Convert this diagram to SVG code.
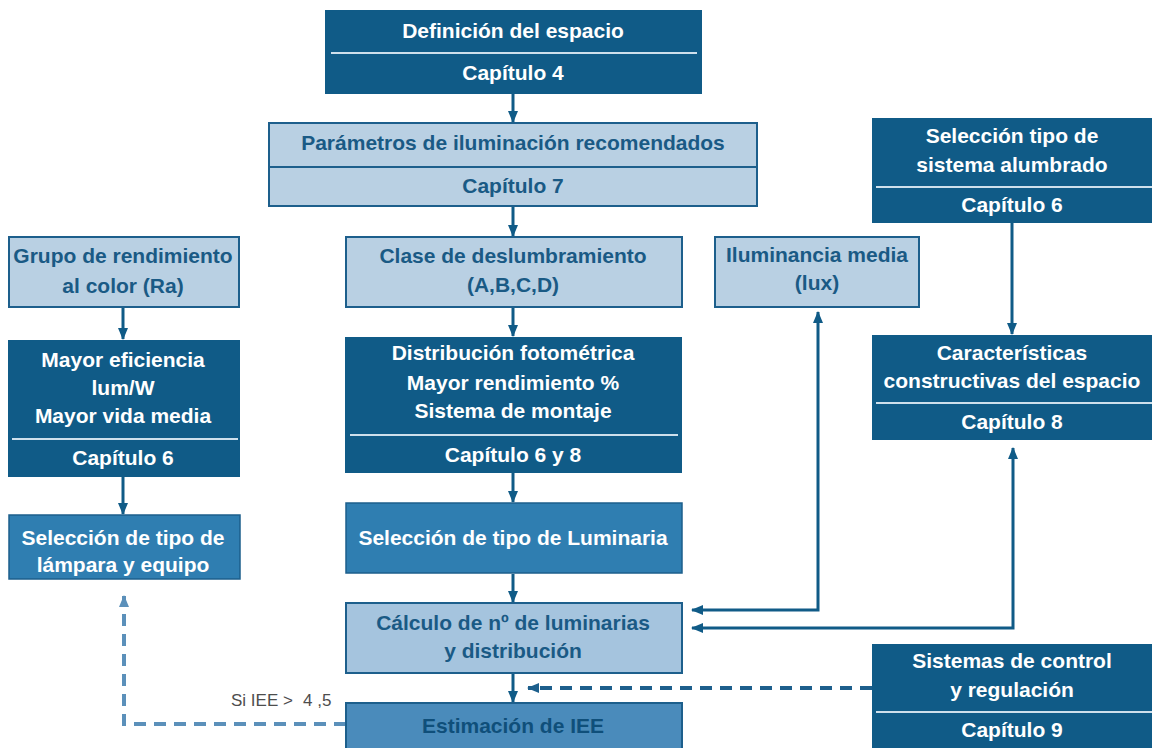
<svg xmlns="http://www.w3.org/2000/svg" width="1152" height="748" viewBox="0 0 1152 748">
<defs>
<style>
text{font-family:"Liberation Sans",Arial,sans-serif;font-weight:bold;font-size:21px;text-anchor:middle}
.dark rect{fill:#105b87}
.dark text{fill:#ffffff}
.dark line{stroke:#cfe0ec;stroke-width:2}
.light rect{fill:#b9d0e3;stroke:#1d5f8c;stroke-width:2}
.light text{fill:#1a5a85}
.light line{stroke:#1d5f8c;stroke-width:2}
.mid rect{fill:#2f7eb1;stroke:#1d5f8c;stroke-width:1.5}
.mid text{fill:#ffffff}
.calc rect{fill:#a5c4de;stroke:#1d5f8c;stroke-width:2}
.calc text{fill:#1a5a85}
.est rect{fill:#4a8bbb;stroke:#1d5f8c;stroke-width:2}
.est text{fill:#0f4f7a}
.conn{fill:none;stroke:#105b87;stroke-width:3}
.dash{fill:none;stroke:#1d5f8c;stroke-width:4;stroke-dasharray:12 8}
.dash2{fill:none;stroke:#5b90ba;stroke-width:4;stroke-dasharray:12 8}
.lbl{font-weight:normal;font-size:17px;fill:#4d4d4d;text-anchor:start}
</style>
<marker id="ah" viewBox="0 0 12 10" refX="11" refY="5" markerWidth="12" markerHeight="10" markerUnits="userSpaceOnUse" orient="auto-start-reverse"><path d="M0,0 L12,5 L0,10 z" fill="#105b87"/></marker>
<marker id="ahd" viewBox="0 0 12 10" refX="11" refY="5" markerWidth="12" markerHeight="10" markerUnits="userSpaceOnUse" orient="auto-start-reverse"><path d="M0,0 L12,5 L0,10 z" fill="#1d5f8c"/></marker>
<marker id="ahl" viewBox="0 0 12 10" refX="11" refY="5" markerWidth="12" markerHeight="10" markerUnits="userSpaceOnUse" orient="auto-start-reverse"><path d="M0,0 L12,5 L0,10 z" fill="#5b90ba"/></marker>
</defs>
<rect width="1152" height="748" fill="#ffffff"/>

<g id="connectors">
<line class="conn" x1="513" y1="94" x2="513" y2="122" marker-end="url(#ah)"/>
<line class="conn" x1="513" y1="207" x2="513" y2="236" marker-end="url(#ah)"/>
<line class="conn" x1="513" y1="308" x2="513" y2="336" marker-end="url(#ah)"/>
<line class="conn" x1="513" y1="473" x2="513" y2="502" marker-end="url(#ah)"/>
<line class="conn" x1="513" y1="574" x2="513" y2="602" marker-end="url(#ah)"/>
<line class="conn" x1="513" y1="674" x2="513" y2="702" marker-end="url(#ah)"/>
<line class="conn" x1="123" y1="308" x2="123" y2="339" marker-end="url(#ah)"/>
<line class="conn" x1="123" y1="477" x2="123" y2="514" marker-end="url(#ah)"/>
<line class="conn" x1="1012" y1="223" x2="1012" y2="334" marker-end="url(#ah)"/>
<polyline class="conn" points="692,610 818,610 818,312" marker-start="url(#ah)" marker-end="url(#ah)"/>
<polyline class="conn" points="692,628 1013,628 1013,448" marker-start="url(#ah)" marker-end="url(#ah)"/>
<line class="dash" x1="872" y1="688" x2="528" y2="688" marker-end="url(#ahd)"/>
<polyline class="dash2" points="346,724 124,724 124,596" marker-end="url(#ahl)"/>
<text class="lbl" x="231" y="706">Si IEE &gt;</text>
<text class="lbl" x="303" y="706">4 ,5</text>
</g>

<g id="definicion" class="dark">
<rect x="325" y="10" width="377" height="84"/>
<line x1="331" y1="53" x2="697" y2="53"/>
<text x="513" y="38">Definición del espacio</text>
<text x="513" y="80">Capítulo 4</text>
</g>

<g id="parametros" class="light">
<rect x="269" y="123" width="488" height="83"/>
<line x1="269" y1="167" x2="757" y2="167"/>
<text x="513" y="150">Parámetros de iluminación recomendados</text>
<text x="513" y="193">Capítulo 7</text>
</g>

<g id="sistema-alumbrado" class="dark">
<rect x="872" y="118" width="280" height="105"/>
<line x1="876" y1="187" x2="1152" y2="187"/>
<text x="1012" y="143">Selección tipo de</text>
<text x="1012" y="172">sistema alumbrado</text>
<text x="1012" y="212">Capítulo 6</text>
</g>

<g id="grupo-rendimiento" class="light">
<rect x="9" y="237" width="230" height="70"/>
<text x="123" y="263">Grupo de rendimiento</text>
<text x="123" y="293">al color (Ra)</text>
</g>

<g id="clase-deslumbramiento" class="light">
<rect x="346" y="237" width="336" height="70"/>
<text x="513" y="263">Clase de deslumbramiento</text>
<text x="513" y="292">(A,B,C,D)</text>
</g>

<g id="iluminancia" class="light">
<rect x="715" y="237" width="204" height="70"/>
<text x="817" y="262">Iluminancia media</text>
<text x="817" y="290">(lux)</text>
</g>

<g id="mayor-eficiencia" class="dark">
<rect x="8" y="340" width="232" height="137"/>
<line x1="12" y1="439" x2="238" y2="439"/>
<text x="123" y="367">Mayor eficiencia</text>
<text x="123" y="395">lum/W</text>
<text x="123" y="423">Mayor vida media</text>
<text x="123" y="465">Capítulo 6</text>
</g>

<g id="distribucion" class="dark">
<rect x="345" y="337" width="337" height="136"/>
<line x1="350" y1="435" x2="678" y2="435"/>
<text x="513" y="360">Distribución fotométrica</text>
<text x="513" y="390">Mayor rendimiento %</text>
<text x="513" y="418">Sistema de montaje</text>
<text x="513" y="462">Capítulo 6 y 8</text>
</g>

<g id="caracteristicas" class="dark">
<rect x="872" y="335" width="280" height="105"/>
<line x1="876" y1="403" x2="1152" y2="403"/>
<text x="1012" y="360">Características</text>
<text x="1012" y="388">constructivas del espacio</text>
<text x="1012" y="429">Capítulo 8</text>
</g>

<g id="seleccion-lampara" class="mid">
<rect x="9" y="515" width="231" height="64"/>
<text x="123" y="545">Selección de tipo de</text>
<text x="123" y="572">lámpara y equipo</text>
</g>

<g id="seleccion-luminaria" class="mid">
<rect x="346" y="503" width="336" height="70"/>
<text x="513" y="545">Selección de tipo de Luminaria</text>
</g>

<g id="calculo" class="calc">
<rect x="346" y="603" width="336" height="70"/>
<text x="513" y="630">Cálculo de nº de luminarias</text>
<text x="513" y="658">y distribución</text>
</g>

<g id="sistemas-control" class="dark">
<rect x="872" y="644" width="280" height="104"/>
<line x1="876" y1="712" x2="1152" y2="712"/>
<text x="1012" y="668">Sistemas de control</text>
<text x="1012" y="697">y regulación</text>
<text x="1012" y="737">Capítulo 9</text>
</g>

<g id="estimacion" class="est">
<rect x="346" y="703" width="336" height="50"/>
<text x="513" y="733">Estimación de IEE</text>
</g>
</svg>
